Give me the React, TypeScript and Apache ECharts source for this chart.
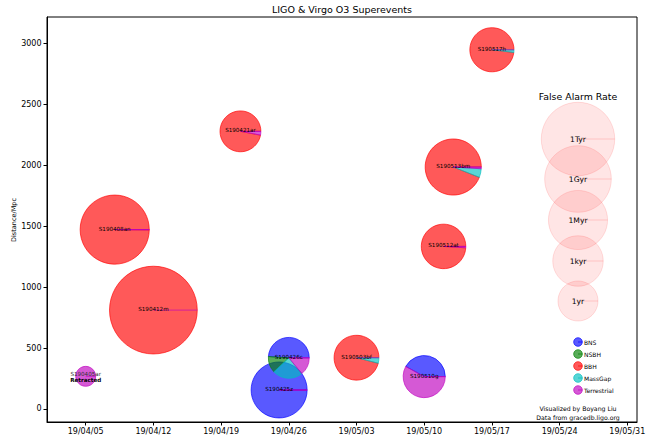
import React, { useEffect, useRef } from 'react';
import * as echarts from 'echarts';

// ---------- data ----------
const events = ['S190405ar', 'S190408an', 'S190412m', 'S190421ar', 'S190425z', 'S190426c', 'S190503bf', 'S190510g', 'S190512at', 'S190513bm', 'S190517h'];
const eventDates = ['2019-04-05', '2019-04-08', '2019-04-12', '2019-04-21', '2019-04-25', '2019-04-26', '2019-05-03', '2019-05-10', '2019-05-12', '2019-05-13', '2019-05-17'];
const distances = [268, 1473, 812, 2280, 156, 420, 421, 266, 1335, 1987, 2950];
// log10 of (1 / false alarm rate in years)
const farLog10Years = [-3.8, 10.05, 19.3, 0.22, 4.85, 0.22, 1.3, 0.56, 1.2, 4.9, 1.1];
const retracted = [true, false, false, false, false, false, false, false, false, false, false];

const classNames = ['BNS', 'NSBH', 'BBH', 'MassGap', 'Terrestrial'];
const pBNS = [0, 0, 0, 0, 0.999, 0.49, 0, 0.42, 0, 0, 0];
const pNSBH = [0, 0, 0, 0, 0, 0.13, 0, 0, 0, 0, 0];
const pBBH = [0, 0.999, 1, 0.97, 0, 0, 0.96, 0, 0.99, 0.94, 0.98];
const pMassGap = [0, 0, 0, 0, 0, 0.24, 0.04, 0, 0, 0.05, 0.02];
const pTerrestrial = [1, 0.001, 0, 0.03, 0.001, 0.14, 0, 0.58, 0.01, 0.01, 0];

const xTickDates = ['2019-04-05', '2019-04-12', '2019-04-19', '2019-04-26', '2019-05-03', '2019-05-10', '2019-05-17', '2019-05-24', '2019-05-31'];
const yTicks = [0, 500, 1000, 1500, 2000, 2500, 3000];

const farLegendLabels = ['1Tyr', '1Gyr', '1Myr', '1kyr', '1yr'];
const farLegendLog = [12, 9, 6, 3, 0];

// ---------- helpers ----------
const FONT = 'DejaVu Sans';
const ORIGIN = Date.UTC(2019, 3, 1);
const DAY = 86400000;
const X_MIN_DATE = '2019-04-01';
const X_MAX_DATE = '2019-06-01';
const pad = (n: number) => (n < 10 ? '0' + n : '' + n);
function dayOf(s: string) {
  const [y, m, d] = s.split('-').map(Number);
  return (Date.UTC(y, m - 1, d) - ORIGIN) / DAY;
}
function fmtDay(v: number) {
  const dt = new Date(ORIGIN + Math.round(v) * DAY);
  return `${String(dt.getUTCFullYear()).slice(2)}/${pad(dt.getUTCMonth() + 1)}/${pad(dt.getUTCDate())}`;
}
const radiusOf = (L: number) => Math.sqrt(Math.max(400 + 79 * L, 16));
const A = 0.65;
const classRGB = ['0,0,255', '0,128,0', '255,0,0', '0,191,191', '191,0,191'];
const rgba = (rgb: string, a: number) => `rgba(${rgb},${a})`;
const probs = [pBNS, pNSBH, pBBH, pMassGap, pTerrestrial];

export default function App() {
  const ref = useRef<HTMLDivElement>(null);
  useEffect(() => {
    if (!ref.current) return;
    const chart = echarts.init(ref.current, undefined, { renderer: 'svg' });

    const renderItem = (params: any, api: any) => {
      const i = api.value(2);
      const pt = api.coord([api.value(0), api.value(1)]);
      const cx = pt[0];
      const cy = pt[1];
      const r = radiusOf(farLog10Years[i]);
      const fr = probs.map((p) => p[i]);
      const tot = fr.reduce((a, b) => a + b, 0) || 1;
      const children: any[] = [];
      let cum = 0;
      fr.forEach((f, k) => {
        const t1 = (2 * Math.PI * cum) / tot;
        const t2 = (2 * Math.PI * (cum + f)) / tot;
        cum += f;
        if (f <= 0) return;
        const full = f / tot > 0.9999;
        if (full) {
          children.push({
            type: 'circle',
            shape: { cx, cy, r },
            style: { fill: rgba(classRGB[k], A), stroke: rgba(classRGB[k], A), lineWidth: 1 },
          });
        } else {
          children.push({
            type: 'sector',
            shape: { cx, cy, r, r0: 0, startAngle: -t2, endAngle: -t1, clockwise: true },
            style: { fill: rgba(classRGB[k], A), stroke: rgba(classRGB[k], A), lineWidth: 1 },
          });
        }
      });
      children.push({
        type: 'line',
        shape: { x1: cx, y1: cy, x2: cx + r, y2: cy },
        style: { stroke: rgba(classRGB[4], A), lineWidth: 1 },
      });
      if (retracted[i]) {
        children.push({
          type: 'text',
          x: cx,
          y: cy - 2,
          style: { text: events[i], fontSize: 5.6, fontFamily: FONT, fill: '#333', align: 'center', verticalAlign: 'middle' },
        });
        children.push({
          type: 'text',
          x: cx,
          y: cy + 3.5,
          style: { text: 'Retracted', fontSize: 5.6, fontWeight: 'bold', fontFamily: FONT, fill: '#000', align: 'center', verticalAlign: 'middle' },
        });
      } else {
        children.push({
          type: 'text',
          x: cx,
          y: cy - 1,
          style: { text: events[i], fontSize: 5.6, fontFamily: FONT, fill: '#000', align: 'center', verticalAlign: 'middle' },
        });
      }
      return { type: 'group', children };
    };

    const graphics: any[] = [];
    graphics.push({
      type: 'text',
      x: 342,
      y: 9,
      style: { text: 'LIGO & Virgo O3 Superevents', fontSize: 9.5, fontFamily: FONT, fill: '#000', align: 'center', verticalAlign: 'middle' },
    });
    graphics.push({
      type: 'text',
      x: 14,
      y: 220,
      rotation: Math.PI / 2,
      style: { text: 'Distance/Mpc', fontSize: 6.5, fontFamily: FONT, fill: '#000', align: 'center', verticalAlign: 'middle' },
    });
    // FAR legend
    graphics.push({
      type: 'text',
      x: 578,
      y: 96,
      style: { text: 'False Alarm Rate', fontSize: 9.4, fontFamily: FONT, fill: '#000', align: 'center', verticalAlign: 'middle' },
    });
    const farY = [139, 179, 220, 261, 301];
    farLegendLabels.forEach((lab, k) => {
      const r = radiusOf(farLegendLog[k]);
      graphics.push({
        type: 'circle',
        shape: { cx: 578, cy: farY[k], r },
        style: { fill: 'rgba(255,0,0,0.1)', stroke: 'rgba(255,0,0,0.12)', lineWidth: 1 },
      });
      graphics.push({
        type: 'line',
        shape: { x1: 578, y1: farY[k], x2: 578 + r, y2: farY[k] },
        style: { stroke: 'rgba(255,0,0,0.15)', lineWidth: 1 },
      });
      graphics.push({
        type: 'text',
        x: 578,
        y: farY[k],
        style: { text: lab, fontSize: 7.6, fontFamily: FONT, fill: '#000', align: 'center', verticalAlign: 'middle' },
      });
    });
    // class legend
    classNames.forEach((nm, k) => {
      const y = 342 + 12 * k;
      graphics.push({
        type: 'circle',
        shape: { cx: 578, cy: y, r: 4.3 },
        style: { fill: rgba(classRGB[k], A), stroke: rgba(classRGB[k], A), lineWidth: 1 },
      });
      graphics.push({
        type: 'line',
        shape: { x1: 578, y1: y, x2: 582.3, y2: y },
        style: { stroke: rgba(classRGB[k], 0.9), lineWidth: 0.8 },
      });
      graphics.push({
        type: 'text',
        x: 584,
        y,
        style: { text: nm, fontSize: 6, fontFamily: FONT, fill: '#000', align: 'left', verticalAlign: 'middle' },
      });
    });
    graphics.push({
      type: 'text',
      x: 578,
      y: 408,
      style: { text: 'Visualized by Boyang Liu', fontSize: 6.2, fontFamily: FONT, fill: '#000', align: 'center', verticalAlign: 'middle' },
    });
    graphics.push({
      type: 'text',
      x: 578,
      y: 417,
      style: { text: 'Data from gracedb.ligo.org', fontSize: 6.2, fontFamily: FONT, fill: '#000', align: 'center', verticalAlign: 'middle' },
    });

    const xTickDays = xTickDates.map(dayOf);

    chart.setOption({
      animation: false,
      backgroundColor: '#fff',
      grid: {
        left: 47, top: 17, right: 27, bottom: 24,
        containLabel: false,
        outerBoundsMode: 'none',
        show: true, borderColor: '#000', borderWidth: 1, backgroundColor: 'transparent',
      },
      xAxis: {
        type: 'value',
        min: dayOf(X_MIN_DATE),
        max: dayOf(X_MAX_DATE),
        axisLine: { show: true, onZero: false, lineStyle: { color: '#000', width: 1 } },
        axisTick: { show: true, customValues: xTickDays, length: 3.5, inside: false, lineStyle: { color: '#000' } },
        axisLabel: { customValues: xTickDays, formatter: (v: number) => fmtDay(v), fontSize: 8, color: '#000', margin: 5, fontFamily: FONT },
        splitLine: { show: false },
      },
      yAxis: {
        type: 'value',
        min: -107,
        max: 3219,
        axisLine: { show: true, onZero: false, lineStyle: { color: '#000', width: 1 } },
        axisTick: { show: true, customValues: yTicks, length: 3.5, inside: false, lineStyle: { color: '#000' } },
        axisLabel: { customValues: yTicks, formatter: (v: number) => String(v), fontSize: 8, color: '#000', margin: 5.5, fontFamily: FONT },
        splitLine: { show: false },
      },
      series: [
        {
          type: 'custom',
          coordinateSystem: 'cartesian2d',
          silent: true,
          clip: false,
          encode: { x: 0, y: 1 },
          data: events.map((_, i) => [dayOf(eventDates[i]), distances[i], i]),
          renderItem,
        },
      ],
      graphic: graphics,
    });
    return () => chart.dispose();
  }, []);
  return <div ref={ref} style={{ position: 'fixed', left: 0, top: 0, width: 664, height: 446 }} />;
}
